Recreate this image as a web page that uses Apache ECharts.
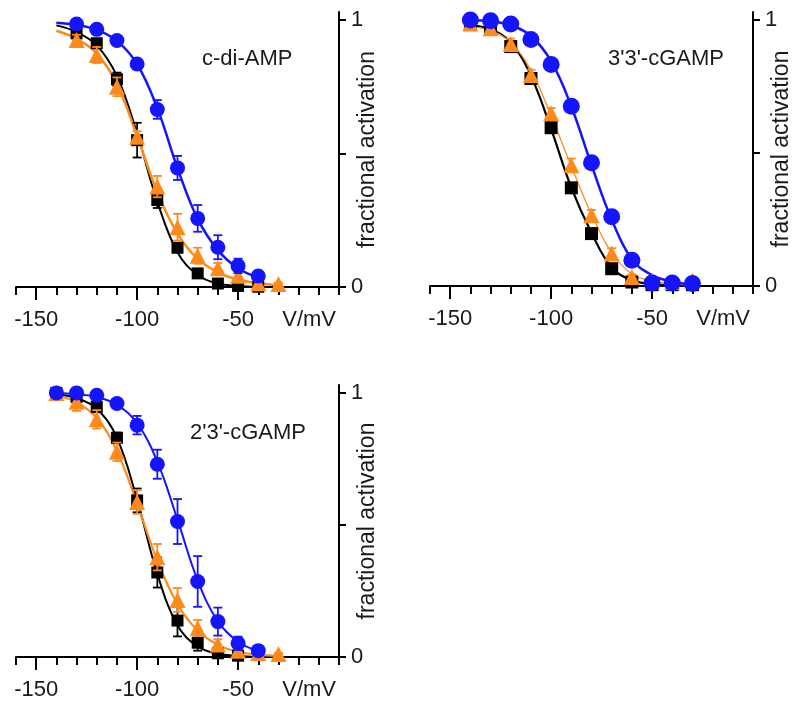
<!DOCTYPE html>
<html>
<head>
<meta charset="utf-8">
<script src="https://cdn.jsdelivr.net/npm/echarts@6/dist/echarts.min.js"></script>
<style>
html,body{margin:0;padding:0;background:#fff;}
#chart{width:794px;height:706px;}
</style>
</head>
<body>
<div id="chart"></div>
<script>
// ---------- data (voltages in mV, fractional activation) ----------
const V = [-140, -130, -120, -110, -100, -90, -80, -70, -60, -50, -40, -30];
const titles = ['c-di-AMP', "3'3'-cGAMP", "2'3'-cGAMP"];
const xMajorTicks = [-150, -100, -50];

// panel 1: c-di-AMP
const cdiBlack      = [null, 0.95, 0.913, 0.778, 0.55, 0.326, 0.147, 0.051, 0.013, 0.004, 0.001, null];
const cdiBlackErr   = [null, 0.015, 0.015, 0.025, 0.065, 0.03, 0.015, 0.01, 0.005, 0.003, 0.002, null];
const cdiOrange     = [null, 0.925, 0.869, 0.75, 0.563, 0.376, 0.224, 0.117, 0.07, 0.042, 0.014, 0.011];
const cdiOrangeErr  = [null, 0.02, 0.03, 0.035, 0.02, 0.04, 0.05, 0.03, 0.02, 0.015, 0.01, 0.005];
const cdiBlue       = [null, 0.985, 0.965, 0.923, 0.835, 0.665, 0.446, 0.257, 0.149, 0.079, 0.041, null];
const cdiBlueErr    = [null, 0.008, 0.008, 0.01, 0.012, 0.035, 0.045, 0.05, 0.045, 0.027, 0.012, null];
const cdiBlackFit   = [0.98, 0.955, 0.905, 0.79, 0.575, 0.32, 0.13, 0.045, 0.013, 0.004, 0.001, null];
const cdiOrangeFit  = [0.96, 0.93, 0.875, 0.76, 0.565, 0.355, 0.2, 0.105, 0.055, 0.028, 0.014, 0.007];
const cdiBlueFit    = [0.99, 0.982, 0.963, 0.922, 0.835, 0.67, 0.445, 0.255, 0.138, 0.07, 0.035, null];

// panel 2: 3'3'-cGAMP
const g33Black      = [0.985, 0.97, 0.9, 0.78, 0.595, 0.369, 0.197, 0.065, 0.015, 0.005, 0.005, 0.005];
const g33BlackErr   = [0.01, 0.01, 0.015, 0.015, 0.015, 0.015, 0.015, 0.01, 0.008, 0.005, 0.005, 0.005];
const g33Orange     = [0.987, 0.969, 0.91, 0.793, 0.649, 0.454, 0.266, 0.122, 0.034, 0.02, 0.015, 0.021];
const g33OrangeErr  = [0.01, 0.015, 0.02, 0.02, 0.02, 0.025, 0.02, 0.02, 0.01, 0.01, 0.01, 0.01];
const g33Blue       = [1.0, 0.997, 0.985, 0.927, 0.833, 0.676, 0.463, 0.26, 0.097, 0.011, 0.011, 0.009];
const g33BlueErr    = [0.005, 0.005, 0.008, 0.01, 0.01, 0.012, 0.012, 0.012, 0.01, 0.005, 0.005, 0.005];
const g33BlackFit   = [0.98, 0.965, 0.915, 0.79, 0.59, 0.37, 0.2, 0.07, 0.022, 0.008, 0.002, null];
const g33OrangeFit  = [0.975, 0.96, 0.915, 0.81, 0.64, 0.45, 0.27, 0.125, 0.045, 0.018, 0.008, 0.004];
const g33BlueFit    = [1.0, 0.995, 0.98, 0.94, 0.845, 0.675, 0.455, 0.25, 0.1, 0.041, 0.016, 0.006];

// panel 3: 2'3'-cGAMP
const g23Black      = [1.0, 0.985, 0.947, 0.83, 0.593, 0.32, 0.138, 0.054, 0.014, 0.005, null, null];
const g23BlackErr   = [0.01, 0.01, 0.02, 0.02, 0.045, 0.057, 0.06, 0.03, 0.012, 0.006, null, null];
const g23Orange     = [1.0, 0.967, 0.9, 0.777, 0.587, 0.378, 0.216, 0.11, 0.047, 0.024, 0.015, 0.011];
const g23OrangeErr  = [0.01, 0.035, 0.035, 0.035, 0.045, 0.05, 0.045, 0.03, 0.02, 0.012, 0.006, 0.004];
const g23Blue       = [1.0, 1.0, 0.991, 0.96, 0.878, 0.73, 0.513, 0.286, 0.134, 0.052, 0.024, null];
const g23BlueErr    = [0.005, 0.008, 0.008, 0.01, 0.035, 0.055, 0.085, 0.096, 0.053, 0.025, 0.01, null];
const g23BlackFit   = [0.995, 0.98, 0.94, 0.83, 0.595, 0.315, 0.12, 0.04, 0.012, 0.004, 0.001, null];
const g23OrangeFit  = [0.99, 0.965, 0.905, 0.78, 0.58, 0.365, 0.2, 0.1, 0.046, 0.02, 0.009, 0.004];
const g23BlueFit    = [1.0, 0.995, 0.985, 0.955, 0.885, 0.74, 0.52, 0.29, 0.135, 0.058, 0.023, null];

// ---------- styling ----------
const FONT = "'Liberation Sans', Arial, sans-serif";
const TXT = '#1a1a1a';
const C = { black: '#000000', orange: '#ff8a1c', blue: '#1414ff' };

const panels = [
  { grid: { left: 16, top: 12, width: 323, height: 275 },
    fits: [cdiBlackFit, cdiOrangeFit, cdiBlueFit],
    data: [cdiBlack, cdiOrange, cdiBlue],
    errs: [cdiBlackErr, cdiOrangeErr, cdiBlueErr],
    lw: [2, 2.5, 2.5], sizes: [12, 16, 15], title: [197, 43] },
  { grid: { left: 430, top: 12, width: 323, height: 274 },
    fits: [g33BlackFit, g33OrangeFit, g33BlueFit],
    data: [g33Black, g33Orange, g33Blue],
    errs: [g33BlackErr, g33OrangeErr, g33BlueErr],
    lw: [2.2, 1.3, 2.5], sizes: [13, 16, 17], title: [603, 43] },
  { grid: { left: 16, top: 385, width: 323, height: 272 },
    fits: [g23BlackFit, g23OrangeFit, g23BlueFit],
    data: [g23Black, g23Orange, g23Blue],
    errs: [g23BlackErr, g23OrangeErr, g23BlueErr],
    lw: [2, 2.2, 2], sizes: [12, 16, 15], title: [185, 417] }
];

const colors = [C.black, C.orange, C.blue];
const symbols = ['rect', 'triangle', 'circle'];

function pts(vals) {
  const out = [];
  V.forEach((v, i) => { if (vals[i] != null) out.push([v, vals[i]]); });
  return out;
}
function errPts(vals, errs) {
  const out = [];
  V.forEach((v, i) => { if (vals[i] != null) out.push([v, vals[i], errs[i]]); });
  return out;
}

const grids = [], xAxes = [], yAxes = [], series = [], titleArr = [];

panels.forEach((p, k) => {
  grids.push(p.grid);
  // minor ticks axis (every 10 mV)
  xAxes.push({
    gridIndex: k, type: 'value', min: -160, max: 0, interval: 10, position: 'bottom',
    axisLine: { show: true, onZero: false, lineStyle: { color: '#000', width: 2 } },
    axisTick: { show: true, inside: false, length: 8, lineStyle: { color: '#000', width: 2 } },
    axisLabel: { show: false }, splitLine: { show: false }
  });
  // major ticks + labels axis
  xAxes.push({
    gridIndex: k, type: 'value', min: -160, max: 0, position: 'bottom',
    axisLine: { show: false, onZero: false },
    axisTick: { show: true, length: 13, customValues: xMajorTicks, lineStyle: { color: '#000', width: 2 } },
    axisLabel: { show: true, customValues: xMajorTicks, margin: 22, fontSize: 22, fontFamily: FONT, color: TXT },
    splitLine: { show: false },
    name: 'V/mV', nameLocation: 'end', nameGap: -3, nameMoveOverlap: false,
    nameTextStyle: { fontSize: 22, fontFamily: FONT, color: TXT, align: 'right', verticalAlign: 'top', padding: [22, 0, 0, 0] }
  });
  yAxes.push({
    gridIndex: k, type: 'value', min: 0, max: 1.03, position: 'right',
    axisLine: { show: true, onZero: false, lineStyle: { color: '#000', width: 2 } },
    axisTick: { show: true, length: 7, customValues: [0, 0.5, 1], lineStyle: { color: '#000', width: 2 } },
    axisLabel: { show: true, customValues: [0, 1], margin: 12, fontSize: 22, fontFamily: FONT, color: TXT },
    splitLine: { show: false },
    name: 'fractional activation', nameLocation: 'middle', nameRotate: 90, nameGap: 17,
    nameMoveOverlap: false,
    nameTextStyle: { fontSize: 23, fontFamily: FONT, color: TXT }
  });
  titleArr.push({ text: titles[k], left: p.title[0], top: p.title[1],
    textStyle: { fontSize: 22, fontWeight: 'normal', fontFamily: FONT, color: TXT } });

  const xi = k * 2, yi = k;
  // fitted curves
  p.fits.forEach((f, j) => {
    series.push({
      type: 'line', xAxisIndex: xi, yAxisIndex: yi, data: pts(f), showSymbol: false, symbol: 'none',
      smooth: 0.4, lineStyle: { color: colors[j], width: p.lw[j] }, z: 2, silent: true
    });
  });
  // error bars and markers
  p.data.forEach((d, j) => {
    const col = colors[j];
    series.push({
      type: 'custom', xAxisIndex: xi, yAxisIndex: yi, data: errPts(d, p.errs[j]), z: 3 + j * 2,
      encode: { x: 0, y: 1 }, silent: true,
      renderItem: function (params, api) {
        const x = api.value(0), y = api.value(1), e = api.value(2);
        const hi = api.coord([x, y + e]), lo = api.coord([x, y - e]);
        const w = 4.5;
        const st = { stroke: col, lineWidth: 1.8 };
        return { type: 'group', children: [
          { type: 'line', shape: { x1: hi[0], y1: hi[1], x2: lo[0], y2: lo[1] }, style: st },
          { type: 'line', shape: { x1: hi[0] - w, y1: hi[1], x2: hi[0] + w, y2: hi[1] }, style: st },
          { type: 'line', shape: { x1: lo[0] - w, y1: lo[1], x2: lo[0] + w, y2: lo[1] }, style: st }
        ] };
      }
    });
    series.push({
      type: 'scatter', xAxisIndex: xi, yAxisIndex: yi, data: pts(d), symbol: symbols[j],
      symbolSize: p.sizes[j], itemStyle: { color: col, opacity: 1 }, z: 4 + j * 2, silent: true
    });
  });
});

const chart = echarts.init(document.getElementById('chart'), null, { renderer: 'canvas' });
chart.setOption({
  animation: false,
  backgroundColor: '#ffffff',
  title: titleArr,
  grid: grids,
  xAxis: xAxes,
  yAxis: yAxes,
  series: series
});
</script>
</body>
</html>
